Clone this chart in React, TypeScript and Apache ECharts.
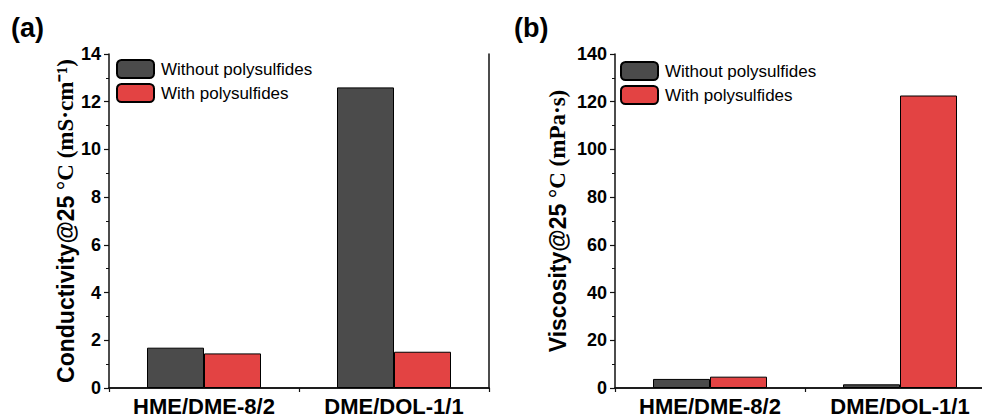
import React, { useEffect, useRef } from "react";
import * as echarts from "echarts";

const categories = ["HME/DME-8/2", "DME/DOL-1/1"];
const seriesNames = ["Without polysulfides", "With polysulfides"];
const conductivityWithout = [1.69, 12.6];
const conductivityWith = [1.45, 1.52];
const viscosityWithout = [3.8, 1.55];
const viscosityWith = [4.75, 122.6];

const DARK = "#4b4b4b";
const RED = "#e34343";
const SANS = "Liberation Sans, Arial, sans-serif";
const SERIF = "Liberation Serif, Times New Roman, serif";

export default function App() {
  const ref = useRef<HTMLDivElement>(null);
  useEffect(() => {
    if (!ref.current) return;
    const chart = echarts.init(ref.current, undefined, { renderer: "svg" });
    const axisLine = { show: true, lineStyle: { color: "#111", width: 1.5 } };
    const bottomX = (gridIndex: number) => ({
      type: "category",
      gridIndex,
      data: categories,
      position: "bottom",
      axisLine,
      axisTick: { show: true, length: 4, lineStyle: { color: "#111", width: 1.2 } },
      axisLabel: {
        interval: 0,
        hideOverlap: false,
        color: "#000",
        fontFamily: SANS,
        fontWeight: "bold",
        fontSize: 22,
        lineHeight: 22,
        margin: 7,
      },
    });
    const topX = (gridIndex: number) => ({
      type: "category",
      gridIndex,
      data: categories,
      position: "top",
      axisLine,
      axisTick: { show: false },
      axisLabel: { show: false },
    });
    const leftY = (gridIndex: number, max: number, interval: number, name: string, nameGap: number) => ({
      type: "value",
      gridIndex,
      min: 0,
      max,
      interval,
      position: "left",
      axisLine,
      axisTick: { show: true, length: 5, lineStyle: { color: "#111", width: 1.2 } },
      minorTick: { show: true, splitNumber: 2, length: 3, lineStyle: { color: "#111", width: 1 } },
      splitLine: { show: false },
      axisLabel: {
        color: "#000",
        fontFamily: SANS,
        fontWeight: "bold",
        fontSize: 18,
        margin: 8,
      },
      name,
      nameLocation: "middle",
      nameRotate: 90,
      nameGap,
      nameTextStyle: {
        rich: {
          a: { fontFamily: SANS, fontWeight: "bold", fontSize: 23, color: "#000" },
          b: { fontFamily: SERIF, fontWeight: "bold", fontSize: 23, color: "#000" },
        },
      },
    });
    const rightY = (gridIndex: number, max: number) => ({
      type: "value",
      gridIndex,
      min: 0,
      max,
      position: "right",
      axisLine,
      axisTick: { show: false },
      axisLabel: { show: false },
      splitLine: { show: false },
    });
    const bar = (name: string, data: number[], color: string, idx: number) => ({
      type: "bar",
      name,
      data,
      xAxisIndex: idx,
      yAxisIndex: idx,
      barGap: "0%",
      barCategoryGap: "40%",
      itemStyle: { color, borderColor: "#000", borderWidth: 1 },
    });
    const legend = (left: number, top: number) => ({
      data: seriesNames,
      orient: "vertical",
      left,
      top,
      itemWidth: 37,
      itemHeight: 18,
      itemGap: 4,
      padding: 0,
      selectedMode: false,
      textStyle: { fontFamily: SANS, fontSize: 17, color: "#000", padding: [0, 0, 0, 2] },
    });
    chart.setOption({
      animation: false,
      backgroundColor: "#fff",
      grid: [
        { left: 109, top: 54, width: 380, height: 334, outerBoundsMode: "none" },
        { left: 615, top: 54, width: 380, height: 334, outerBoundsMode: "none" },
      ],
      xAxis: [bottomX(0), topX(0), bottomX(1), topX(1)],
      yAxis: [
        leftY(0, 14, 2, "{a|Conductivity@25}{b| °C (mS·cm⁻¹)}", 30),
        rightY(0, 14),
        leftY(1, 140, 20, "{a|Viscosity@25}{b| °C (mPa·s)}", 46),
        rightY(1, 140),
      ],
      legend: [legend(116, 59), legend(620, 61)],
      series: [
        bar(seriesNames[0], conductivityWithout, DARK, 0),
        bar(seriesNames[1], conductivityWith, RED, 0),
        bar(seriesNames[0], viscosityWithout, DARK, 2),
        bar(seriesNames[1], viscosityWith, RED, 2),
      ],
      graphic: [
        { type: "text", left: 11, top: 14, style: { text: "(a)", font: `bold 27px ${SANS}`, fill: "#000" } },
        { type: "text", left: 514, top: 14, style: { text: "(b)", font: `bold 27px ${SANS}`, fill: "#000" } },
      ],
    } as any);
    return () => chart.dispose();
  }, []);
  return <div ref={ref} style={{ position: "fixed", left: 0, top: 0, width: 982, height: 417 }} />;
}
